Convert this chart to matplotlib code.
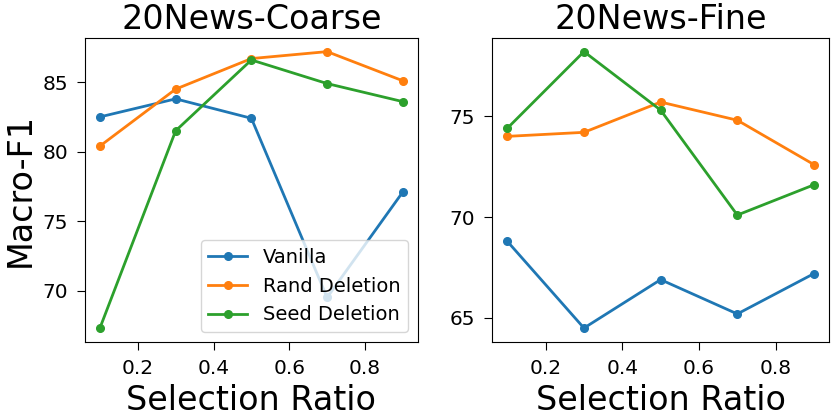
import matplotlib
matplotlib.use("Agg")
import matplotlib.pyplot as plt

ratios = [0.1, 0.3, 0.5, 0.7, 0.9]

# 20News-Coarse
coarse_vanilla = [82.5, 83.8, 82.4, 69.5, 77.1]
coarse_rand = [80.4, 84.5, 86.7, 87.2, 85.1]
coarse_seed = [67.3, 81.5, 86.6, 84.9, 83.6]

# 20News-Fine
fine_vanilla = [68.8, 64.5, 66.9, 65.2, 67.2]
fine_rand = [74.0, 74.2, 75.7, 74.8, 72.6]
fine_seed = [74.4, 78.2, 75.3, 70.1, 71.6]

labels = ["Vanilla", "Rand Deletion", "Seed Deletion"]

fig = plt.figure(figsize=(8.31, 4.2), dpi=100)
ax1 = fig.add_axes([0.102, 0.186, 0.401, 0.724])
ax2 = fig.add_axes([0.592, 0.186, 0.406, 0.724])

for ax, data, title in [(ax1, [coarse_vanilla, coarse_rand, coarse_seed], "20News-Coarse"),
                        (ax2, [fine_vanilla, fine_rand, fine_seed], "20News-Fine")]:
    for vals, lab in zip(data, labels):
        ax.plot(ratios, vals, marker="o", markersize=5.5, linewidth=2, label=lab)
    ax.set_title(title, fontsize=24)
    ax.set_xlabel("Selection Ratio", fontsize=24, labelpad=5)
    ax.set_xticks([0.2, 0.4, 0.6, 0.8])
    ax.tick_params(labelsize=14.5, length=5.5, pad=6.5)

ax1.set_yticks([70, 75, 80, 85])
ax2.set_yticks([65, 70, 75])
ax1.set_ylabel("Macro-F1", fontsize=24, labelpad=4)
ax1.legend(loc="lower right", fontsize=14)

fig.savefig("out.png", dpi=100)
